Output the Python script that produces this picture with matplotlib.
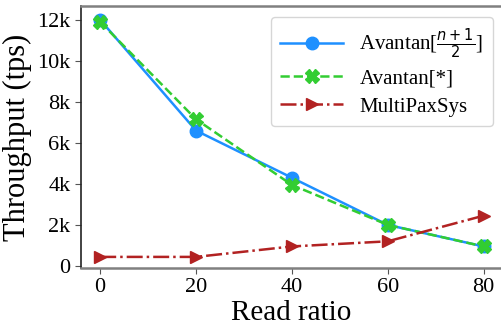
import matplotlib
matplotlib.use("Agg")
import matplotlib.pyplot as plt

plt.rcParams['font.family'] = ['Liberation Serif', 'DejaVu Serif']
plt.rcParams['mathtext.fontset'] = 'dejavusans'

read_ratio = [0, 20, 40, 60, 80]
avantan_half = [12000, 6600, 4300, 2000, 950]
avantan_all = [11900, 7150, 3950, 2000, 950]
multipaxsys = [440, 440, 950, 1200, 2450]
yticks = [0, 2000, 4000, 6000, 8000, 10000, 12000]
ytick_labels = ['0', '2k', '4k', '6k', '8k', '10k', '12k']

fig = plt.figure(figsize=(5.01, 3.28), dpi=100)
ax = fig.add_axes([0.1617, 0.183, 0.84, 0.799])

ax.plot(read_ratio, avantan_half, color='#1e90ff', linestyle='-', marker='o',
        markersize=9, linewidth=1.8, label=r'Avantan[$\frac{n+1}{2}$]')
ax.plot(read_ratio, avantan_all, color='#32cd32', linestyle='--', marker='X',
        markersize=10, linewidth=1.8, label='Avantan[*]')
ax.plot(read_ratio, multipaxsys, color='#b22222', linestyle='-.', marker='>',
        markersize=9, linewidth=1.8, label='MultiPaxSys')

ax.set_xlim(-4, 83.8)
ax.set_ylim(-100, 12680)
ax.set_xticks(read_ratio)
ax.set_yticks(yticks)
ax.set_yticklabels(ytick_labels)
ax.tick_params(labelsize=16, length=4, color='#555555')
ax.set_xlabel('Read ratio', fontsize=21, labelpad=2)
ax.set_ylabel('Throughput (tps)', fontsize=22, labelpad=4)

for side in ['top', 'bottom']:
    ax.spines[side].set_color('#808080')
    ax.spines[side].set_linewidth(1.8)
ax.spines['right'].set_visible(False)
ax.spines['left'].set_color('#222222')
ax.spines['left'].set_linewidth(1.2)

leg = ax.legend(loc='upper right', fontsize=15, frameon=True, fancybox=True,
                handlelength=3.0, borderpad=0.45, labelspacing=0.4,
                handletextpad=0.8, borderaxespad=0,
                bbox_to_anchor=(0.979, 0.958))
leg.get_frame().set_edgecolor('#cccccc')

fig.savefig('out.png', dpi=100)
